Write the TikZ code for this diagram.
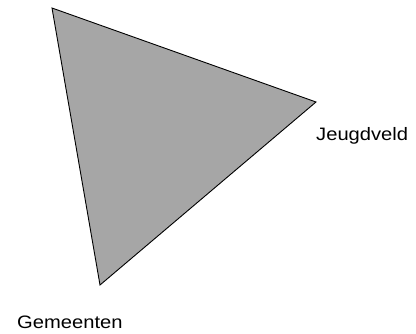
\documentclass[tikz,border=0pt]{standalone}
\usepackage{fontspec}
\setmainfont{Liberation Sans}
\usepackage{tikz}
\usetikzlibrary{positioning}
\definecolor{veldgrijs}{RGB}{166,166,166}
\tikzset{
hoek/.style={
draw=black,
fill=veldgrijs,
line width=0.9pt,
line join=miter
},
label/.style={
inner sep=0pt,
xscale=1.12,
transform shape,
font=\fontsize{18}{20}\selectfont
}
}
\begin{document}
\begin{tikzpicture}[x=1pt,y=1pt]
\useasboundingbox (0,0) rectangle (416,333);
\coordinate (top) at (52,325);
\coordinate (jv) at (316,231);
\coordinate (gm) at (100,48);

\draw[hoek] (top)--(jv)--(gm)--cycle;

\node[label,anchor=base west](jeugd) at (316,193){Jeugdveld};
\node[label,anchor=base west](gem) at (17,5){Gemeenten};
\end{tikzpicture}
\end{document}
